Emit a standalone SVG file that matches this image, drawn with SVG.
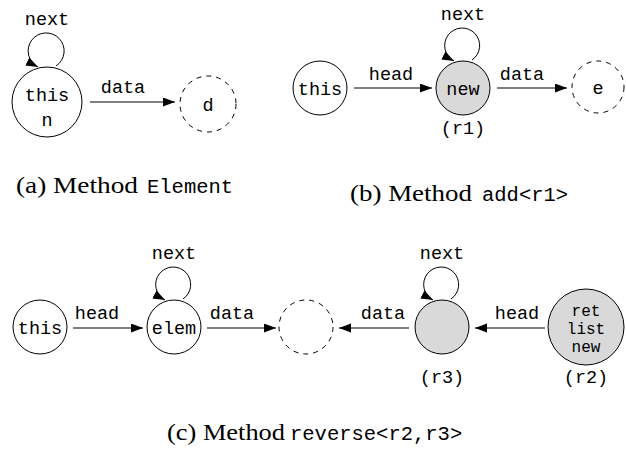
<svg xmlns="http://www.w3.org/2000/svg" width="626" height="458" viewBox="0 0 626 458">
<style>
  .n { fill: #ffffff; stroke: #000; stroke-width: 1; }
  .g { fill: #d9d9d9; stroke: #000; stroke-width: 1; }
  .d { fill: none; stroke: #000; stroke-width: 1; stroke-dasharray: 5 5; }
  .e { fill: none; stroke: #000; stroke-width: 1; marker-end: url(#ah); }
  .t { font-family: "Liberation Mono", "DejaVu Sans Mono", monospace; font-size: 18.5px; text-anchor: middle; fill: #000; }
  .s { font-size: 16px; }
  .cs { font-family: "Liberation Serif", "DejaVu Serif", serif; font-size: 23px; fill: #000; }
  .cm { font-family: "Liberation Mono", "DejaVu Sans Mono", monospace; font-size: 20.5px; fill: #000; }
</style>
<defs>
  <marker id="ah" markerUnits="userSpaceOnUse" markerWidth="13" markerHeight="10" refX="12" refY="4.5" orient="auto">
    <path d="M0,0 L12,4.5 L0,9 z" fill="#000"/>
  </marker>
</defs>
<rect width="626" height="458" fill="#fff"/>

<!-- Panel (a) -->
<g id="a-this">
  <circle class="n" cx="47" cy="102" r="35"/>
  <text class="t" x="47" y="101">this</text>
  <text class="t" x="47" y="126">n</text>
</g>
<g id="a-d">
  <circle class="d" cx="208" cy="104" r="28"/>
  <text class="t" x="208" y="111">d</text>
</g>
<g id="a-caption">
  <text class="cs" x="16" y="193" textLength="122" lengthAdjust="spacingAndGlyphs">(a) Method</text>
  <text class="cm" x="147" y="193">Element</text>
</g>

<!-- Panel (b) -->
<g id="b-this">
  <circle class="n" cx="320" cy="88" r="27"/>
  <text class="t" x="320" y="95">this</text>
</g>
<g id="b-new">
  <circle class="g" cx="463" cy="88" r="27"/>
  <text class="t" x="463" y="95">new</text>
  <text class="t" x="463" y="134">(r1)</text>
</g>
<g id="b-e">
  <circle class="d" cx="598" cy="87" r="26"/>
  <text class="t" x="598" y="94">e</text>
</g>
<g id="b-caption">
  <text class="cs" x="350" y="201" textLength="122" lengthAdjust="spacingAndGlyphs">(b) Method</text>
  <text class="cm" x="482" y="201">add&lt;r1&gt;</text>
</g>

<!-- Panel (c) -->
<g id="c-this">
  <circle class="n" cx="40" cy="327" r="27"/>
  <text class="t" x="40" y="334">this</text>
</g>
<g id="c-elem">
  <circle class="n" cx="174" cy="327" r="27"/>
  <text class="t" x="174" y="334">elem</text>
</g>
<g id="c-dashed">
  <circle class="d" cx="306" cy="327" r="27"/>
</g>
<g id="c-r3">
  <circle class="g" cx="442" cy="327" r="27"/>
  <text class="t" x="442" y="383">(r3)</text>
</g>
<g id="c-ret">
  <circle class="g" cx="586" cy="327" r="38"/>
  <text class="t s" x="586" y="316">ret</text>
  <text class="t s" x="586" y="334">list</text>
  <text class="t s" x="586" y="352">new</text>
  <text class="t" x="586" y="383">(r2)</text>
</g>
<g id="c-caption">
  <text class="cs" x="167" y="440" textLength="118" lengthAdjust="spacingAndGlyphs">(c) Method</text>
  <text class="cm" x="290" y="440">reverse&lt;r2,r3&gt;</text>
</g>

<!-- Connectors -->
<g id="connectors">
  <!-- (a) -->
  <path class="e" d="M56,66 A18,18 0 1 0 38,67"/>
  <text class="t" x="47" y="25">next</text>
  <line class="e" x1="90" y1="102" x2="175" y2="102"/>
  <text class="t" x="123" y="93">data</text>
  <!-- (b) -->
  <line class="e" x1="354" y1="88" x2="432" y2="88"/>
  <text class="t" x="391" y="80">head</text>
  <path class="e" d="M472,60 A17.5,17.5 0 1 0 454,61"/>
  <text class="t" x="463" y="20">next</text>
  <line class="e" x1="497" y1="88" x2="567" y2="88"/>
  <text class="t" x="522" y="80">data</text>
  <!-- (c) -->
  <line class="e" x1="73" y1="328" x2="143" y2="328"/>
  <text class="t" x="97" y="319">head</text>
  <path class="e" d="M183,299 A17.5,17.5 0 1 0 165,300"/>
  <text class="t" x="174" y="259">next</text>
  <line class="e" x1="207" y1="328" x2="276" y2="328"/>
  <text class="t" x="232" y="319">data</text>
  <line class="e" x1="409" y1="328" x2="339" y2="328"/>
  <text class="t" x="383" y="319">data</text>
  <path class="e" d="M451,299 A17.5,17.5 0 1 0 433,300"/>
  <text class="t" x="442" y="259">next</text>
  <line class="e" x1="545" y1="328" x2="475" y2="328"/>
  <text class="t" x="517" y="319">head</text>
</g>
</svg>
